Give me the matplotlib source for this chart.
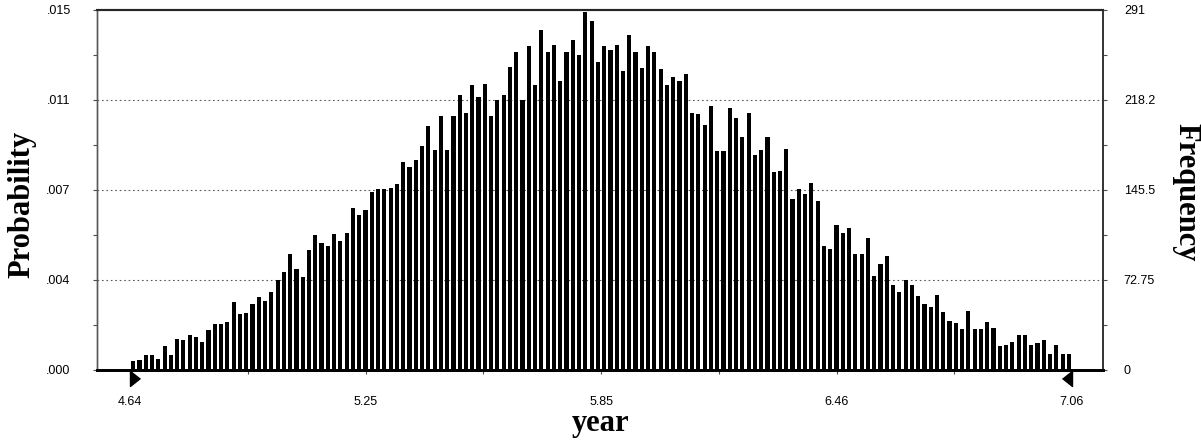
import matplotlib
matplotlib.use("Agg")
import matplotlib.pyplot as plt
import numpy as np

# forecast histogram (150 bins), heights
range_lo = 4.64
range_hi = 7.06
n_trials = 20000
freq_max = 291

freq = [7, 8, 12, 12, 9, 19, 12, 25, 24, 28,
        27, 23, 32, 37, 37, 39, 55, 45, 46, 53,
        59, 56, 63, 73, 79, 94, 82, 75, 97, 109,
        103, 100, 110, 104, 111, 131, 125, 129, 144, 146,
        146, 147, 150,
        168, 164, 170, 181, 197, 178, 205, 178, 205, 222,
        208, 230, 221, 231, 205, 218, 222, 245, 257, 218,
        262, 230, 275, 257, 263, 234, 257, 267, 255, 289,
        282, 249, 262, 259, 263, 242, 271, 257, 244, 262,
        257, 243, 230, 237, 234, 239, 208, 207, 198, 213,
        177, 177, 212, 204, 188, 208, 174, 178, 188, 160,
        161, 179, 138, 146,
        142, 151, 137, 100, 98, 117, 111, 115, 94, 94,
        107, 76, 86, 92, 69, 63, 73, 69, 60, 53,
        51, 61, 47, 40, 38, 33, 48, 33, 33, 39,
        34, 19, 20, 23, 28, 28, 20, 22, 24, 13,
        20, 13, 13]

x_labels = ["4.64", "5.25", "5.85", "6.46", "7.06"]
right_labels = ["0", "72.75", "145.5", "218.2", "291"]

bin_w = (range_hi - range_lo) / len(freq)
centers = range_lo + bin_w * (np.arange(len(freq)) + 0.5)

tick_font = {"family": "Liberation Sans", "size": 9}
label_font = {"family": "Liberation Serif", "weight": "bold", "size": 22}

fig = plt.figure(figsize=(12.01, 4.4), dpi=100)
ax = fig.add_axes([0.0808, 0.1591, 0.8376, 0.8182])

ax.bar(centers, freq, width=bin_w * 0.66, color="black", linewidth=0, zorder=2)

xpad = 33 / 389.3
ax.set_xlim(range_lo - xpad, range_hi + 31 / 389.3)
ax.set_ylim(0, freq_max)

# y ticks: 4 intervals labelled, midpoints as minor ticks
yt = np.linspace(0, freq_max, 5)
ax.set_yticks(yt)
ax.set_yticklabels([f"{v / n_trials:.3f}".lstrip("0") for v in yt], fontdict=tick_font)
ax.set_yticks((yt[:-1] + yt[1:]) / 2, minor=True)

xt = np.linspace(range_lo, range_hi, 5)
ax.set_xticks(xt)
ax.set_xticklabels(x_labels, fontdict=tick_font)
ax.set_xticks((xt[:-1] + xt[1:]) / 2, minor=True)

for v in yt[1:-1]:
    ax.axhline(v, color="0.35", lw=0.8, ls=(0, (1.5, 2.5)), zorder=1)

ax.tick_params(axis="y", which="both", direction="out", length=3, width=0.8,
               color="0.3", pad=16)
ax.tick_params(axis="x", which="both", direction="out", length=3, width=0.8,
               color="0.3", pad=16)

rax = ax.twinx()
rax.set_ylim(0, freq_max)
rax.set_yticks(yt)
rax.set_yticklabels(right_labels, fontdict=tick_font)
rax.set_yticks((yt[:-1] + yt[1:]) / 2, minor=True)
rax.tick_params(axis="y", which="both", direction="out", length=3, width=0.8,
                color="0.3", pad=12)

for a in (ax, rax):
    a.spines["left"].set_color("0.35")
    a.spines["left"].set_linewidth(1.0)
    a.spines["right"].set_color("0.2")
    a.spines["right"].set_linewidth(1.2)
    a.spines["top"].set_color("0.15")
    a.spines["top"].set_linewidth(1.5)
    a.spines["bottom"].set_color("black")
    a.spines["bottom"].set_linewidth(2.0)

# certainty grabbers at both ends of the range
grab_r = [(0, 0), (0, -1.6), (1.0, -0.8)]
grab_l = [(0, 0), (0, -1.6), (-1.0, -0.8)]
ax.plot([range_lo], [0], marker=grab_r, ms=23, color="black", clip_on=False, zorder=5)
ax.plot([range_hi], [0], marker=grab_l, ms=23, color="black", clip_on=False, zorder=5)

fig.text(22 / 1201, 1 - 204 / 440, "Probability", rotation=90, ha="center", va="center",
         fontdict=label_font)
fig.text(1186 / 1201, 1 - 192 / 440, "Frequency", rotation=270, ha="center", va="center",
         fontdict=label_font)
fig.text(601 / 1201, 1 - 423 / 440, "year", ha="center", va="center", fontdict=label_font)

fig.savefig("out.png", dpi=100)
